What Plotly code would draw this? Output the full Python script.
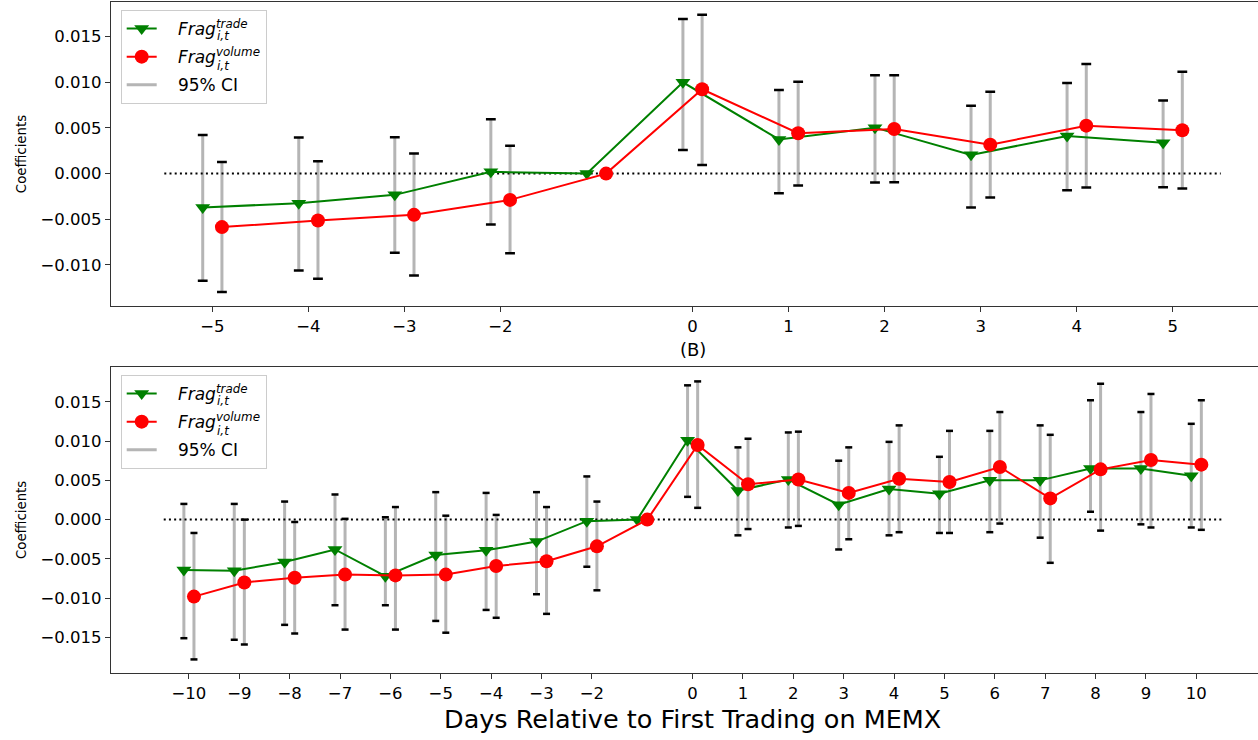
import plotly.graph_objects as go
from plotly.subplots import make_subplots

# ---------------- data ----------------
days_a = [-5, -4, -3, -2, -1, 0, 1, 2, 3, 4, 5]
tick_a = [-5, -4, -3, -2, 0, 1, 2, 3, 4, 5]
trade_a = [-0.00372, -0.00324, -0.00233, 0.00019, 0.0, 0.0100, 0.00374, 0.00503, 0.00205, 0.00412, 0.00339]
trade_a_lo = [-0.01174, -0.01061, -0.00868, -0.00558, None, 0.00259, -0.00214, -0.00098, -0.00372, -0.00182, -0.00149]
trade_a_hi = [0.00423, 0.00394, 0.00398, 0.00595, None, 0.01692, 0.00916, 0.01077, 0.00744, 0.00992, 0.00799]
vol_a = [-0.00586, -0.00514, -0.00452, -0.00288, 0.0, 0.00923, 0.00442, 0.00489, 0.00317, 0.00525, 0.00475]
vol_a_lo = [-0.01297, -0.01152, -0.01116, -0.00871, None, 0.00095, -0.00131, -0.00094, -0.00263, -0.00153, -0.00164]
vol_a_hi = [0.00128, 0.00136, 0.00219, 0.00306, None, 0.01739, 0.01006, 0.01077, 0.00897, 0.01200, 0.01116]

days_b = list(range(-10, 11))
tick_b = [d for d in days_b if d != -1]
trade_b = [-0.0064, -0.0065, -0.0054, -0.0038, -0.0072, -0.0045, -0.0039, -0.0028, -0.0002, 0.0,
           0.0101, 0.0037, 0.0051, 0.0019, 0.0039, 0.0033, 0.0050, 0.0050, 0.0065, 0.0065, 0.0056]
trade_b_lo = [-0.0151, -0.0153, -0.0134, -0.0109, -0.0109, -0.0129, -0.0115, -0.0095, -0.0060, None,
              0.0029, -0.0020, -0.0010, -0.0038, -0.0020, -0.0017, -0.0016, -0.0023, 0.0010, -0.0006, -0.0010]
trade_b_hi = [0.0020, 0.0020, 0.0023, 0.0032, 0.0003, 0.0035, 0.0034, 0.0035, 0.0055, None,
              0.0171, 0.0092, 0.0111, 0.0075, 0.0099, 0.0080, 0.0113, 0.0120, 0.0152, 0.0137, 0.0122]
vol_b = [-0.0098, -0.0080, -0.0074, -0.0070, -0.0071, -0.0070, -0.0059, -0.0053, -0.0034, 0.0,
         0.0095, 0.0045, 0.0051, 0.0034, 0.0052, 0.0048, 0.0067, 0.0027, 0.0064, 0.0076, 0.0070]
vol_b_lo = [-0.0178, -0.0159, -0.0145, -0.0140, -0.0140, -0.0144, -0.0125, -0.0120, -0.0090, None,
            0.0015, -0.0012, -0.0008, -0.0025, -0.0016, -0.0017, -0.0005, -0.0055, -0.0014, -0.0010, -0.0013]
vol_b_hi = [-0.0017, 0.0000, -0.0003, 0.0001, 0.0016, 0.0005, 0.0006, 0.0016, 0.0023, None,
            0.0176, 0.0103, 0.0112, 0.0092, 0.0120, 0.0113, 0.0137, 0.0108, 0.0173, 0.0160, 0.0152]

PAD = "&nbsp;" * 3
name_trade = PAD + "<i>Frag<sup>trade</sup></i>"
name_vol = PAD + "<i>Frag<sup>volume</sup></i>"
name_ci = PAD + "95% CI"
sub_text = "<i>i,t</i>"
title_b = "(B)"
xlabel = "Days Relative to First Trading on MEMX"
ylabel = "Coefficients"

# ---------------- style ----------------
FONT = "DejaVu Sans"
GREEN = "#008000"
RED = "#ff0000"
GRAY = "#b5b5b5"
OFF = 0.1
W, H = 1258, 740
ML, MR, MT, MB = 111, 0, 2, 66.5


def minus(v):
    return str(v).replace("-", "\u2212")


fig = make_subplots(rows=2, cols=1, vertical_spacing=0.0)


def add_panel(row, days, tr, tr_lo, tr_hi, vo, vo_lo, vo_hi, capsize, legend):
    xs, ys, cx, cy = [], [], [], []
    for off, lo, hi in ((-OFF, tr_lo, tr_hi), (OFF, vo_lo, vo_hi)):
        for d, l, h in zip(days, lo, hi):
            if l is None:
                continue
            xs += [d + off, d + off, None]
            ys += [l, h, None]
            cx += [d + off, d + off]
            cy += [l, h]
    fig.add_trace(go.Scatter(x=xs, y=ys, mode="lines", line=dict(color=GRAY, width=3),
                             name=name_ci, legend=legend, legendrank=3,
                             legendgroup=legend + "ci", hoverinfo="skip"),
                  row=row, col=1)
    fig.add_trace(go.Scatter(x=cx, y=cy, mode="markers",
                             marker=dict(symbol="line-ew", size=capsize,
                                         line=dict(color="black", width=2.5)),
                             showlegend=False, hoverinfo="skip"), row=row, col=1)
    fig.add_trace(go.Scatter(x=[min(days) - 0.5, max(days) + 0.5], y=[0, 0], mode="lines",
                             line=dict(color="black", width=2, dash="2px,3.2px"),
                             showlegend=False, hoverinfo="skip"), row=row, col=1)
    fig.add_trace(go.Scatter(x=[d - OFF for d in days], y=tr, mode="lines+markers",
                             line=dict(color=GREEN, width=2),
                             marker=dict(symbol="triangle-down", size=13, color=GREEN),
                             name=name_trade, legend=legend, legendrank=1,
                             legendgroup=legend + "tr"), row=row, col=1)
    fig.add_trace(go.Scatter(x=[d + OFF for d in days], y=vo, mode="lines+markers",
                             line=dict(color=RED, width=2),
                             marker=dict(symbol="circle", size=14, color=RED),
                             name=name_vol, legend=legend, legendrank=2,
                             legendgroup=legend + "vo"), row=row, col=1)


add_panel(1, days_a, trade_a, trade_a_lo, trade_a_hi, vol_a, vol_a_lo, vol_a_hi, 7, "legend")
add_panel(2, days_b, trade_b, trade_b_lo, trade_b_hi, vol_b, vol_b_lo, vol_b_hi, 5, "legend2")

plot_h = H - MT - MB


def py(p):
    return (H - MB - p) / plot_h


def px(p):
    return (p - ML) / (W - ML - MR)


axis_common = dict(showline=True, linecolor="#333333", linewidth=1.2, ticks="outside",
                   ticklen=5, tickwidth=1.2, tickcolor="#333333", showgrid=False, zeroline=False,
                   tickfont=dict(family=FONT, size=16.5, color="black"))

fig.update_xaxes(axis_common, mirror=True)
fig.update_yaxes(axis_common, mirror=False, tickformat=".3f")

fig.update_xaxes(row=1, col=1, range=[-6.055, 5.888], tickvals=tick_a,
                 ticktext=[minus(t) for t in tick_a], domain=[0, 1])
fig.update_xaxes(row=2, col=1, range=[-11.547, 11.225], tickvals=tick_b,
                 ticktext=[minus(t) for t in tick_b], domain=[0, 1])
fig.update_yaxes(row=1, col=1, range=[-0.01453, 0.01879], domain=[py(306.5), 1],
                 tickvals=[-0.010, -0.005, 0.0, 0.005, 0.010, 0.015])
fig.update_yaxes(row=2, col=1, range=[-0.01953, 0.01943], domain=[0, py(367.3)],
                 tickvals=[-0.015, -0.010, -0.005, 0.0, 0.005, 0.010, 0.015])

legend_style = dict(xanchor="left", yanchor="top", bgcolor="rgba(255,255,255,0.8)",
                    bordercolor="#cccccc", borderwidth=1,
                    font=dict(family=FONT, size=17, color="black"), tracegroupgap=3)

LEG_TOPS = [10, 375.3]
annotations = [
    dict(text=title_b, x=0, xref="x2", y=py(350), yref="paper", showarrow=False,
         font=dict(family=FONT, size=18), xanchor="center", yanchor="middle"),
    dict(text=xlabel, x=0, xref="x2", y=py(720), yref="paper", showarrow=False,
         font=dict(family=FONT, size=25.5), xanchor="center", yanchor="middle"),
    dict(text=ylabel, x=px(21), xref="paper", y=0.5, yref="y domain", showarrow=False,
         textangle=-90, font=dict(family=FONT, size=13.3), xanchor="center", yanchor="middle"),
    dict(text=ylabel, x=px(21), xref="paper", y=0.5, yref="y2 domain", showarrow=False,
         textangle=-90, font=dict(family=FONT, size=13.3), xanchor="center", yanchor="middle"),
]
for top in LEG_TOPS:
    for k in range(2):
        annotations.append(dict(text=sub_text, x=px(215), xref="paper",
                                y=py(top + 26 + 30 * k), yref="paper", showarrow=False,
                                font=dict(family=FONT, size=12), xanchor="left",
                                yanchor="middle"))

fig.update_layout(
    width=W, height=H, margin=dict(l=ML, r=MR, t=MT, b=MB),
    paper_bgcolor="white", plot_bgcolor="white",
    font=dict(family=FONT, color="black"),
    legend=dict(legend_style, x=px(120.7), y=py(LEG_TOPS[0])),
    legend2=dict(legend_style, x=px(120.7), y=py(LEG_TOPS[1])),
    annotations=annotations,
)

fig.write_html("out.html", config={"displayModeBar": False},
               post_script="document.body.style.margin='0px';")
